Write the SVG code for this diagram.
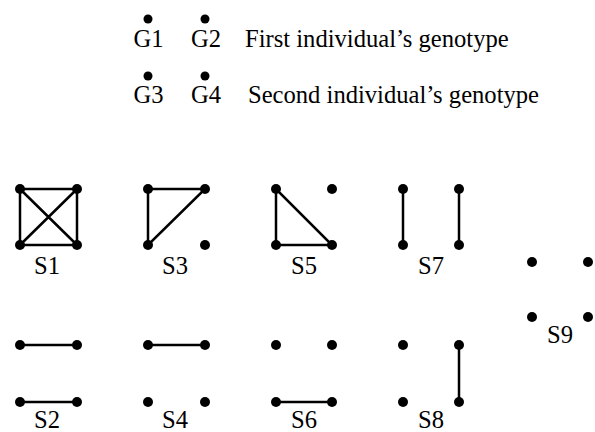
<svg xmlns="http://www.w3.org/2000/svg" width="595" height="432" viewBox="0 0 595 432">
  <style>
    .dot { fill: #000; }
    .edge { stroke: #000; stroke-width: 2.5; fill: none; stroke-linecap: round; }
    text { font-family: "Liberation Serif", "Times New Roman", serif; font-size: 24.6px; fill: #000; }
    .lbl { text-anchor: middle; }
  </style>
  <defs>
    <circle id="d" class="dot" r="5"/>
    <circle id="hd" class="dot" r="4.5"/>
  </defs>

  <!-- Legend -->
  <g id="legend">
    <use href="#hd" x="148" y="19"/>
    <use href="#hd" x="205" y="19"/>
    <text x="148.5" y="47" class="lbl">G1</text>
    <text x="206" y="47" class="lbl">G2</text>
    <text x="245" y="47">First individual’s genotype</text>
    <use href="#hd" x="148" y="76"/>
    <use href="#hd" x="205" y="76"/>
    <text x="148.5" y="103" class="lbl">G3</text>
    <text x="206" y="103" class="lbl">G4</text>
    <text x="248" y="103">Second individual’s genotype</text>
  </g>

  <!-- Connectors -->
  <g id="edges">
    <!-- S1 -->
    <path class="edge" d="M20 189 H77 V245 H20 Z M20 189 L77 245 M77 189 L20 245"/>
    <!-- S3 -->
    <path class="edge" d="M148 245 V189 H205 Z"/>
    <!-- S5 -->
    <path class="edge" d="M276 189 V245 H332 Z"/>
    <!-- S7 -->
    <path class="edge" d="M403 189 V245 M459 189 V245"/>
    <!-- S2 -->
    <path class="edge" d="M20 345 H77 M20 402 H77"/>
    <!-- S4 -->
    <path class="edge" d="M148 345 H205"/>
    <!-- S6 -->
    <path class="edge" d="M276 402 H332"/>
    <!-- S8 -->
    <path class="edge" d="M459 345 V402"/>
  </g>

  <g id="S1">
    <use href="#d" x="20" y="189"/><use href="#d" x="77" y="189"/>
    <use href="#d" x="20" y="245"/><use href="#d" x="77" y="245"/>
    <text x="47" y="274" class="lbl">S1</text>
  </g>
  <g id="S3">
    <use href="#d" x="148" y="189"/><use href="#d" x="205" y="189"/>
    <use href="#d" x="148" y="245"/><use href="#d" x="205" y="245"/>
    <text x="175" y="274" class="lbl">S3</text>
  </g>
  <g id="S5">
    <use href="#d" x="276" y="189"/><use href="#d" x="332" y="189"/>
    <use href="#d" x="276" y="245"/><use href="#d" x="332" y="245"/>
    <text x="304" y="274" class="lbl">S5</text>
  </g>
  <g id="S7">
    <use href="#d" x="403" y="189"/><use href="#d" x="459" y="189"/>
    <use href="#d" x="403" y="245"/><use href="#d" x="459" y="245"/>
    <text x="431" y="274" class="lbl">S7</text>
  </g>
  <g id="S9">
    <use href="#d" x="532" y="262"/><use href="#d" x="588" y="262"/>
    <use href="#d" x="532" y="317"/><use href="#d" x="588" y="317"/>
    <text x="560" y="343" class="lbl">S9</text>
  </g>
  <g id="S2">
    <use href="#d" x="20" y="345"/><use href="#d" x="77" y="345"/>
    <use href="#d" x="20" y="402"/><use href="#d" x="77" y="402"/>
    <text x="47" y="428" class="lbl">S2</text>
  </g>
  <g id="S4">
    <use href="#d" x="148" y="345"/><use href="#d" x="205" y="345"/>
    <use href="#d" x="148" y="402"/><use href="#d" x="205" y="402"/>
    <text x="175" y="428" class="lbl">S4</text>
  </g>
  <g id="S6">
    <use href="#d" x="276" y="345"/><use href="#d" x="332" y="345"/>
    <use href="#d" x="276" y="402"/><use href="#d" x="332" y="402"/>
    <text x="304" y="428" class="lbl">S6</text>
  </g>
  <g id="S8">
    <use href="#d" x="403" y="345"/><use href="#d" x="459" y="345"/>
    <use href="#d" x="403" y="402"/><use href="#d" x="459" y="402"/>
    <text x="431" y="428" class="lbl">S8</text>
  </g>
</svg>
